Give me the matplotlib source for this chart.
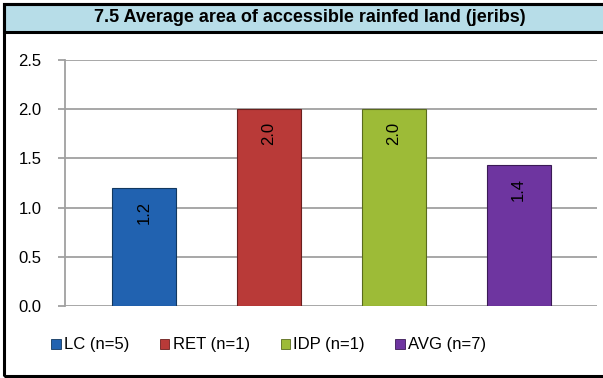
import matplotlib
matplotlib.use("Agg")
import matplotlib.pyplot as plt
from matplotlib.patches import Rectangle, Patch

plt.rcParams["font.family"] = ["Liberation Sans", "DejaVu Sans"]

TITLE = "7.5 Average area of accessible rainfed land (jeribs)"
GROUPS = ["LC (n=5)", "RET (n=1)", "IDP (n=1)", "AVG (n=7)"]
VALUES = [1.2, 2.0, 2.0, 1.43]
COLORS = ["#2162b0", "#b93a38", "#9dbb37", "#6e35a0"]
EDGES = ["#12385f", "#6b1f1e", "#5a6b1e", "#3a1a55"]
YTICKS = [0.0, 0.5, 1.0, 1.5, 2.0, 2.5]

W, H = 603, 378
fig = plt.figure(figsize=(W / 100, H / 100), dpi=100, facecolor="white")


def px(x0, y0, w, h):
    # pixel box (top-left origin) -> figure fraction
    return [x0 / W, 1 - (y0 + h) / H, w / W, h / H]


# outer frame + title band
b = px(4, 4, 640, 28)
fig.patches.append(Rectangle((b[0], b[1]), b[2], b[3], transform=fig.transFigure,
                             facecolor="#b7dde8", edgecolor="black", lw=2.2, zorder=1))
b = px(4, 4, 640, 372)
fig.patches.append(Rectangle((b[0], b[1]), b[2], b[3], transform=fig.transFigure,
                             facecolor="none", edgecolor="black", lw=2.2, zorder=2))
fig.text(310 / W, 1 - 18 / H, TITLE, ha="center", va="center",
         fontsize=13, fontweight="bold")

ax = fig.add_axes(px(65, 60, 532, 246))
ax.set_zorder(5)
ax.patch.set_alpha(0)
x = list(range(len(GROUPS)))
ax.bar(x, VALUES, width=0.512, color=COLORS, edgecolor=EDGES, linewidth=0.8, zorder=3)
for xi, v in zip(x, VALUES):
    ax.text(xi, v - 0.25, f"{v:.1f}", rotation=90, ha="center", va="center",
            fontsize=12, zorder=4)

ax.set_xlim(-0.6325, 3.627)
ax.set_ylim(0, 2.5)
ax.set_yticks(YTICKS)
ax.set_yticklabels([f"{t:.1f}" for t in YTICKS], fontsize=12)
ax.set_xticks([])
ax.yaxis.grid(True, color="#a0a0a0", lw=1.3, zorder=0)
ax.set_axisbelow(True)
for s in ["top", "right", "bottom"]:
    ax.spines[s].set_visible(False)
ax.spines["left"].set_color("#a0a0a0")
ax.spines["left"].set_linewidth(1.3)
ax.tick_params(axis="y", color="#a0a0a0", width=1.3, length=5, pad=12)

handles = [Patch(facecolor=c, edgecolor=e, lw=0.6) for c, e in zip(COLORS, EDGES)]
fig.legend(handles, GROUPS, loc="center left", bbox_to_anchor=(43 / W, 1 - 345 / H),
           ncol=4, frameon=False, fontsize=12, handlelength=0.55, handleheight=0.55,
           handletextpad=0.2, columnspacing=1.85, borderpad=0)

fig.savefig("out.png", dpi=100)
